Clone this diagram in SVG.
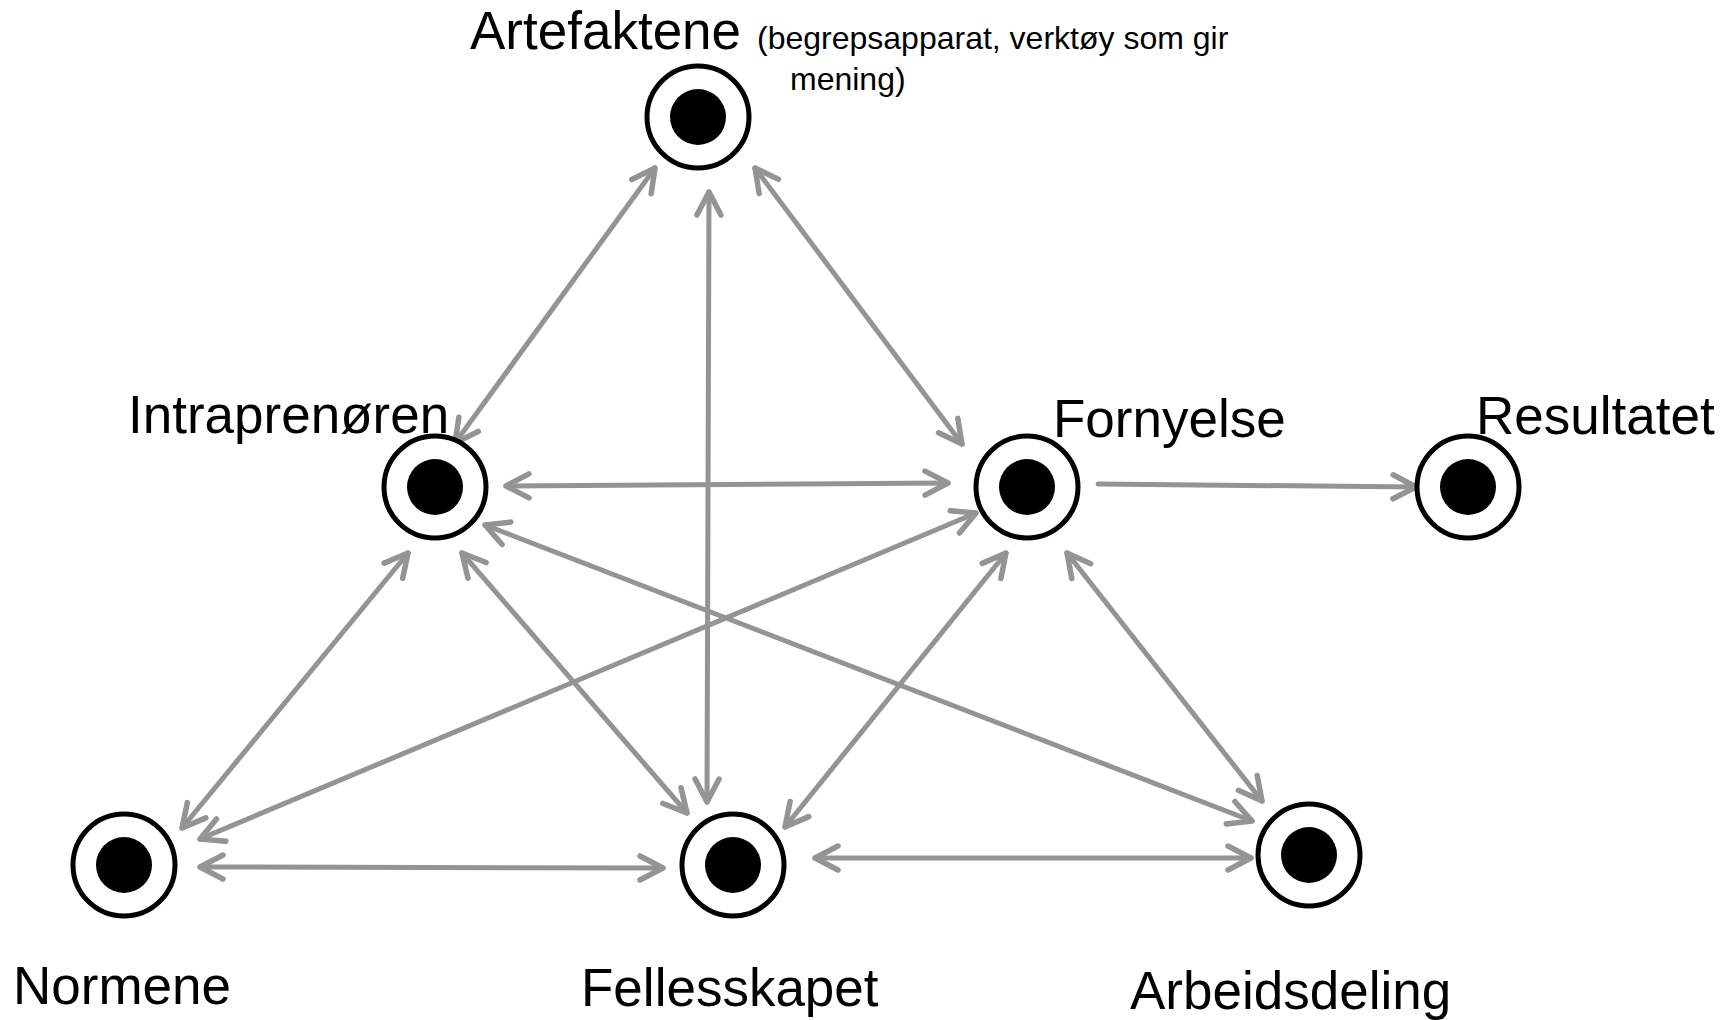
<svg xmlns="http://www.w3.org/2000/svg" width="1726" height="1020" viewBox="0 0 1726 1020">
<style>
  .ring { fill: #ffffff; stroke: #000000; stroke-width: 5; }
  .dot { fill: #000000; }
  .lbl { font-family: "Liberation Sans", Arial, sans-serif; font-size: 53px; fill: #000000; }
  .sub { font-family: "Liberation Sans", Arial, sans-serif; font-size: 32px; fill: #000000; }
  .conn line { stroke: #949494; stroke-width: 5; stroke-linecap: round; fill: none; }
</style>
<defs>
  <marker id="ah" markerUnits="userSpaceOnUse" viewBox="-30 -20 40 40" refX="0" refY="0" markerWidth="40" markerHeight="40" orient="auto-start-reverse" overflow="visible">
    <path d="M -23 -12 L 0 0 L -23 12" fill="none" stroke="#949494" stroke-width="5.5" stroke-linecap="round" stroke-linejoin="round"/>
  </marker>
</defs>
<rect width="1726" height="1020" fill="#ffffff"/>
<g id="connectors" class="conn">
  <line x1="655" y1="168" x2="455" y2="443" marker-start="url(#ah)" marker-end="url(#ah)"/>
  <line x1="709" y1="192" x2="707" y2="802" marker-start="url(#ah)" marker-end="url(#ah)"/>
  <line x1="755" y1="168" x2="962" y2="444" marker-start="url(#ah)" marker-end="url(#ah)"/>
  <line x1="506" y1="486" x2="948" y2="483" marker-start="url(#ah)" marker-end="url(#ah)"/>
  <line x1="1098" y1="484" x2="1416" y2="487" marker-end="url(#ah)"/>
  <line x1="408" y1="553" x2="182" y2="828" marker-start="url(#ah)" marker-end="url(#ah)"/>
  <line x1="462" y1="553" x2="687" y2="813" marker-start="url(#ah)" marker-end="url(#ah)"/>
  <line x1="485" y1="525" x2="1252" y2="821" marker-start="url(#ah)" marker-end="url(#ah)"/>
  <line x1="976" y1="513" x2="200" y2="839" marker-start="url(#ah)" marker-end="url(#ah)"/>
  <line x1="1006" y1="553" x2="785" y2="827" marker-start="url(#ah)" marker-end="url(#ah)"/>
  <line x1="1067" y1="553" x2="1262" y2="801" marker-start="url(#ah)" marker-end="url(#ah)"/>
  <line x1="200" y1="867" x2="663" y2="868" marker-start="url(#ah)" marker-end="url(#ah)"/>
  <line x1="815" y1="858" x2="1251" y2="858" marker-start="url(#ah)" marker-end="url(#ah)"/>
</g>
<g id="artefaktene">
  <circle class="ring" cx="698" cy="117" r="51"/>
  <circle class="dot" cx="698" cy="117" r="28"/>
  <text class="lbl" x="470" y="49">Artefaktene</text>
  <text class="sub" x="757" y="49">(begrepsapparat, verktøy som gir</text>
  <text class="sub" x="790" y="90">mening)</text>
</g>
<g id="intraprenoren">
  <circle class="ring" cx="435" cy="487" r="51"/>
  <circle class="dot" cx="435" cy="487" r="28"/>
  <text class="lbl" x="128" y="433">Intraprenøren</text>
</g>
<g id="fornyelse">
  <circle class="ring" cx="1027" cy="487" r="51"/>
  <circle class="dot" cx="1027" cy="487" r="28"/>
  <text class="lbl" x="1053" y="437">Fornyelse</text>
</g>
<g id="resultatet">
  <circle class="ring" cx="1468" cy="487" r="51"/>
  <circle class="dot" cx="1468" cy="487" r="28"/>
  <text class="lbl" x="1476" y="434">Resultatet</text>
</g>
<g id="normene">
  <circle class="ring" cx="124" cy="865" r="51"/>
  <circle class="dot" cx="124" cy="865" r="28"/>
  <text class="lbl" x="13" y="1004">Normene</text>
</g>
<g id="fellesskapet">
  <circle class="ring" cx="733" cy="865" r="51"/>
  <circle class="dot" cx="733" cy="865" r="28"/>
  <text class="lbl" x="581" y="1006">Fellesskapet</text>
</g>
<g id="arbeidsdeling">
  <circle class="ring" cx="1309" cy="855" r="51"/>
  <circle class="dot" cx="1309" cy="855" r="28"/>
  <text class="lbl" x="1130" y="1009">Arbeidsdeling</text>
</g>
</svg>
